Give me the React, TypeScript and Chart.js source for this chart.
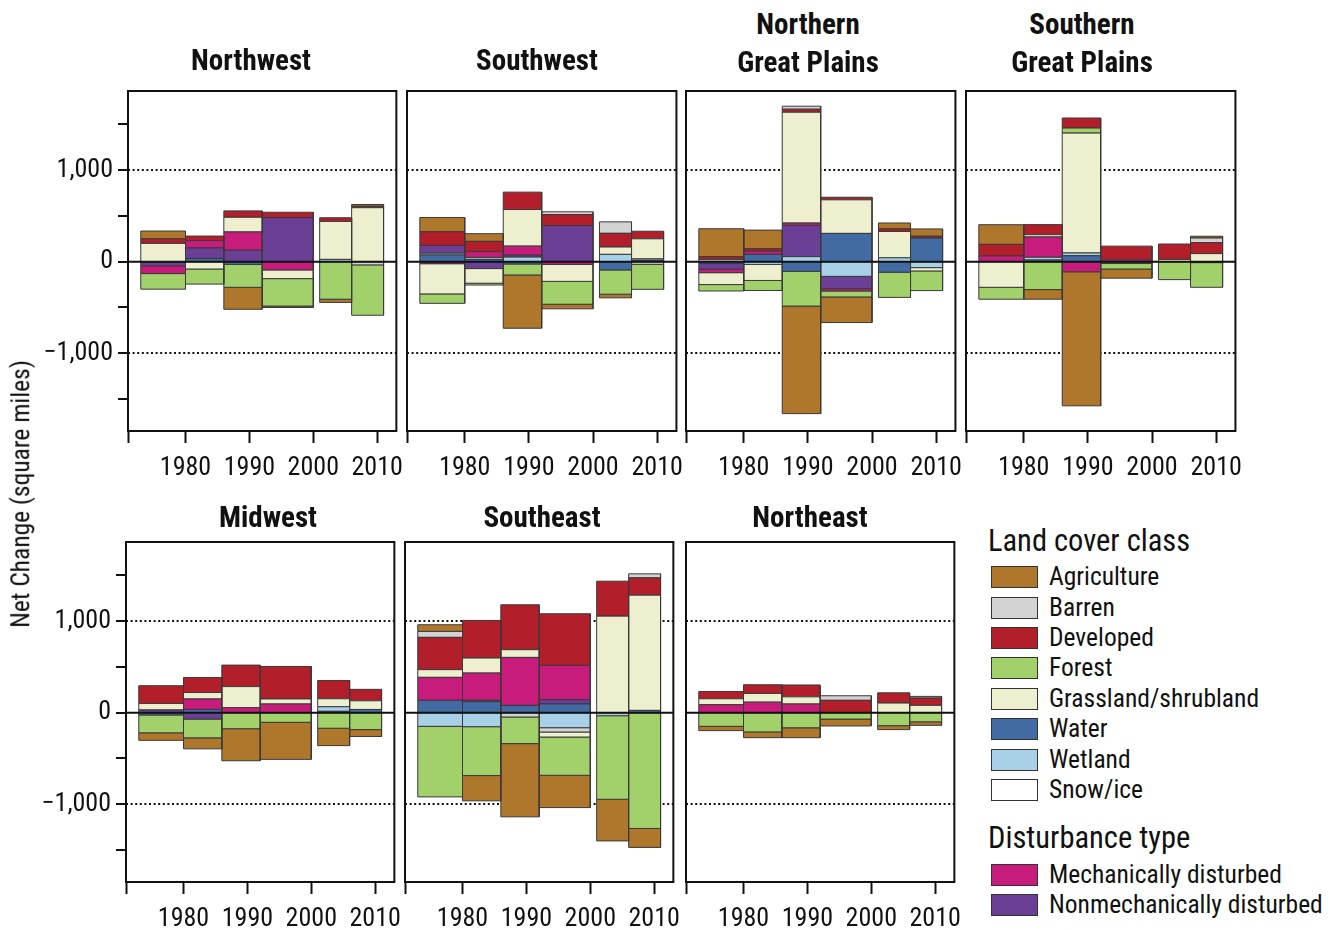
import React, { useEffect, useRef } from "react";
import { Chart, registerables } from "chart.js";

Chart.register(...registerables);

const FONT = '"Roboto Condensed", "Liberation Sans", Arial, sans-serif';

// ---------- data ----------
const periodStarts = [1973, 1980, 1986, 1992, 2001, 2006];
const periodEnds = [1980, 1986, 1992, 2000, 2006, 2011];
const xTickValues = [1971, 1980, 1990, 2000, 2010];
const yTickValues = [-1500, -1000, -500, 0, 500, 1000, 1500];
const yTickText: Record<string, string> = { "1000": "1,000", "0": "0", "-1000": "\u22121,000" };

const landCoverLabels = ["Agriculture", "Barren", "Developed", "Forest", "Grassland/shrubland", "Water", "Wetland", "Snow/ice"];
const landCoverKeys = ["agriculture", "barren", "developed", "forest", "grassland", "water", "wetland", "snow"];
const disturbanceLabels = ["Mechanically disturbed", "Nonmechanically disturbed"];
const disturbanceKeys = ["mechanical", "nonmechanical"];

type Region = Record<string, number[]>;

const northwest: Region = {
  agriculture: [85, 0, -240, -15, -35, 20],
  barren: [0, 0, 0, 0, 0, -35],
  developed: [50, 50, 70, 60, 40, 15],
  forest: [-170, -165, -250, -300, -410, -550],
  grassland: [200, -80, 160, -95, 415, 590],
  water: [0, 35, -30, 0, 0, 0],
  wetland: [0, 0, 0, 0, 25, 0],
  snow: [0, 0, 0, 0, 0, 0],
  mechanical: [-85, 80, 200, -90, 0, 0],
  nonmechanical: [-45, 115, 125, 480, 0, 0],
};

const southwest: Region = {
  agriculture: [156, 84, -582, -50, -40, 0],
  barren: [0, 0, 0, 30, 125, -29],
  developed: [150, 113, 190, 120, 150, 83],
  forest: [-103, -20, -120, -250, -265, -273],
  grassland: [-330, -160, 400, -185, 80, 220],
  water: [73, 25, -25, 0, -90, 15],
  wetland: [20, 22, 50, 0, 80, 15],
  snow: [0, 0, 0, 0, 0, 0],
  mechanical: [-22, 62, 98, -30, 0, 0],
  nonmechanical: [84, -75, 22, 395, 0, 0],
};

const northernGreatPlains: Region = {
  agriculture: [305, 204, -1175, -280, 65, 80],
  barren: [0, 0, 33, 0, 0, 0],
  developed: [30, 25, 33, 28, 28, 20],
  forest: [-70, -110, -380, -65, -275, -215],
  grassland: [-130, -175, 1211, 367, 288, -36],
  water: [-20, 80, -105, 309, -115, 258],
  wetland: [25, -30, 55, -160, 42, -65],
  snow: [0, 0, 0, 0, 0, 0],
  mechanical: [-38, 36, 25, -25, 0, 0],
  nonmechanical: [-62, 0, 342, -135, 0, 0],
};

const southernGreatPlains: Region = {
  agriculture: [215, -105, -1465, -100, 0, 20],
  barren: [0, 0, 0, 0, 0, 50],
  developed: [127, 110, 110, 150, 168, 120],
  forest: [-130, -305, 55, -60, -196, -270],
  grassland: [-280, 25, 1310, 0, 25, 88],
  water: [0, 18, 65, -20, 0, -10],
  wetland: [0, 30, 30, 0, 0, 0],
  snow: [0, 0, 0, 0, 0, 0],
  mechanical: [62, 222, -110, 20, 0, 0],
  nonmechanical: [0, 0, 0, 0, 0, 0],
};

const midwest: Region = {
  agriculture: [-82, -120, -350, -405, -190, -75],
  barren: [0, 0, 0, 0, 0, 0],
  developed: [195, 165, 235, 355, 200, 125],
  forest: [-195, -205, -175, -105, -170, -185],
  grassland: [70, 70, 230, 55, 87, 95],
  water: [-25, 35, 0, 0, 15, 35],
  wetland: [0, 0, 0, 0, 50, 0],
  snow: [0, 0, 0, 0, 0, 0],
  mechanical: [0, 115, 55, 95, 0, 0],
  nonmechanical: [30, -70, 0, 0, 0, 0],
};

const southeast: Region = {
  agriculture: [73, -276, -800, -353, -455, -207],
  barren: [65, 0, -47, -47, 0, 44],
  developed: [353, 411, 491, 564, 382, 189],
  forest: [-771, -534, -291, -418, -913, -1265],
  grassland: [84, 164, 84, -55, 1055, 1259],
  water: [135, 120, 80, 95, 0, 25],
  wetland: [-149, -153, 0, -164, -33, 0],
  snow: [0, 0, 0, 0, 0, 0],
  mechanical: [251, 298, 524, 375, 0, 0],
  nonmechanical: [0, 15, 0, 47, 0, 0],
};

const northeast: Region = {
  agriculture: [-47, -63, -108, -75, -43, -38],
  barren: [0, 0, 0, 50, 0, 18],
  developed: [80, 95, 130, 135, 112, 80],
  forest: [-149, -210, -165, -70, -142, -100],
  grassland: [65, 95, 78, 0, 105, 80],
  water: [0, 0, 0, 0, 0, 0],
  wetland: [0, 0, 0, 0, 0, 0],
  snow: [0, 0, 0, 0, 0, 0],
  mechanical: [87, 115, 95, 0, 0, 0],
  nonmechanical: [0, 0, 0, 0, 0, 0],
};

// ---------- styles ----------
const classColors: Record<string, string> = {
  agriculture: "#AF772C",
  barren: "#D3D3D3",
  developed: "#B21F2B",
  forest: "#A2D16B",
  grassland: "#EEEFCF",
  water: "#426BA3",
  wetland: "#A8D1E7",
  snow: "#FFFFFF",
  mechanical: "#C81C7C",
  nonmechanical: "#6C3F96",
};

const positiveOrder = ["water", "wetland", "snow", "nonmechanical", "mechanical", "grassland", "forest", "developed", "barren", "agriculture"];
const negativeOrder = ["water", "wetland", "barren", "snow", "nonmechanical", "mechanical", "grassland", "forest", "agriculture"];

type PanelCfg = {
  title: string[];
  titleX: number;
  titleY: number[];
  region: Region;
  frame: [number, number, number, number];
  showY: boolean;
};

const panels: PanelCfg[] = [
  { title: ["Northwest"], titleX: 251, titleY: [60], region: northwest, frame: [128, 91, 398, 431], showY: true },
  { title: ["Southwest"], titleX: 537, titleY: [60], region: southwest, frame: [407, 91, 678, 431], showY: false },
  { title: ["Northern", "Great Plains"], titleX: 808, titleY: [24, 62], region: northernGreatPlains, frame: [686, 91, 957, 431], showY: false },
  { title: ["Southern", "Great Plains"], titleX: 1082, titleY: [24, 62], region: southernGreatPlains, frame: [966, 91, 1237, 431], showY: false },
  { title: ["Midwest"], titleX: 268, titleY: [517], region: midwest, frame: [126, 542, 396, 882], showY: true },
  { title: ["Southeast"], titleX: 542, titleY: [517], region: southeast, frame: [405, 542, 675, 882], showY: false },
  { title: ["Northeast"], titleX: 810, titleY: [517], region: northeast, frame: [686, 542, 956, 882], showY: false },
];

const PAD_TOP = 22;
const PAD_RIGHT = 16;
const X_AXIS_H = 60;

function rectDataset(p: number, lo: number, hi: number, key: string) {
  const a = periodStarts[p];
  const b = periodEnds[p];
  return {
    type: "line" as const,
    label: key,
    data: [
      { x: a, y: lo },
      { x: a, y: hi },
      { x: b, y: hi },
      { x: b, y: lo },
      { x: a, y: lo },
    ],
    fill: "shape",
    backgroundColor: classColors[key],
    borderColor: "#3a3a3a",
    borderWidth: 1,
    borderJoinStyle: "miter",
    pointRadius: 0,
    pointHoverRadius: 0,
    tension: 0,
    order: 1,
  };
}

function buildDatasets(region: Region) {
  const out: any[] = [];
  for (let p = 0; p < periodStarts.length; p++) {
    let up = 0;
    for (const k of positiveOrder) {
      const v = region[k] ? region[k][p] : 0;
      if (v > 0) {
        out.push(rectDataset(p, up, up + v, k));
        up += v;
      }
    }
    let down = 0;
    for (const k of negativeOrder) {
      const v = region[k] ? region[k][p] : 0;
      if (v < 0) {
        out.push(rectDataset(p, down + v, down, k));
        down += v;
      }
    }
  }
  out.push({
    type: "line",
    label: "zero",
    data: [
      { x: 1971, y: 0 },
      { x: 2013, y: 0 },
    ],
    borderColor: "#111",
    borderWidth: 2,
    pointRadius: 0,
    fill: false,
    order: -1,
  });
  return out;
}

const framePlugin = {
  id: "frame",
  afterDraw(chart: any) {
    const { ctx, chartArea: a } = chart;
    ctx.save();
    ctx.strokeStyle = "#111";
    ctx.lineWidth = 2;
    ctx.strokeRect(a.left, a.top, a.right - a.left, a.bottom - a.top);
    ctx.restore();
  },
};

function Panel({ cfg }: { cfg: PanelCfg }) {
  const ref = useRef<HTMLCanvasElement>(null);
  const [x0, y0, x1, y1] = cfg.frame;
  const padL = cfg.showY ? 110 : 12;
  const w = x1 - x0 + padL + PAD_RIGHT;
  const h = y1 - y0 + PAD_TOP + X_AXIS_H;

  useEffect(() => {
    if (!ref.current) return;
    const chart = new Chart(ref.current, {
      type: "line",
      data: { datasets: buildDatasets(cfg.region) as any },
      options: {
        animation: false,
        responsive: false,
        events: [],
        layout: { padding: { top: PAD_TOP, right: PAD_RIGHT, left: 0, bottom: 0 } },
        plugins: {
          legend: { display: false },
          tooltip: { enabled: false },
          title: { display: false },
        },
        scales: {
          x: {
            type: "linear",
            min: 1971,
            max: 2013,
            afterBuildTicks: (s: any) => {
              s.ticks = xTickValues.map((v) => ({ value: v }));
            },
            afterFit: (s: any) => {
              s.height = X_AXIS_H;
            },
            ticks: {
              autoSkip: false,
              maxRotation: 0,
              padding: 10,
              color: "#111",
              font: { family: FONT, size: 26 },
              callback: (v: any) => (v === 1971 ? "" : String(v)),
            },
            grid: {
              drawOnChartArea: false,
              drawTicks: true,
              tickLength: 12,
              tickWidth: 2,
              tickColor: "#111",
              color: "#111",
            },
            border: { display: false },
          },
          y: {
            type: "linear",
            min: -1850,
            max: 1865,
            afterBuildTicks: (s: any) => {
              s.ticks = yTickValues.map((v) => ({ value: v }));
            },
            afterFit: (s: any) => {
              s.width = padL;
            },
            ticks: {
              display: cfg.showY,
              autoSkip: false,
              padding: 5,
              color: "#111",
              font: { family: FONT, size: 26 },
              callback: (v: any) => yTickText[String(v)] ?? "",
            },
            grid: {
              color: (c: any) => (c.tick && Math.abs(c.tick.value) === 1000 ? "#111" : "rgba(0,0,0,0)"),
              lineWidth: 2,
              drawTicks: cfg.showY,
              tickLength: 10,
              tickWidth: 2,
              tickColor: "#111",
            },
            border: { display: false, dash: [2, 2.6] },
          },
        },
      } as any,
      plugins: [framePlugin],
    });
    return () => chart.destroy();
  }, []);

  return (
    <canvas
      ref={ref}
      width={w}
      height={h}
      style={{ position: "absolute", left: x0 - padL, top: y0 - PAD_TOP, width: w, height: h }}
    />
  );
}

const textBase: React.CSSProperties = {
  position: "absolute",
  whiteSpace: "nowrap",
  fontFamily: FONT,
  color: "#111",
  lineHeight: 1,
  transform: "translate(-50%, -50%)",
};

function LegendRow({ label, color, y }: { label: string; color: string; y: number }) {
  return (
    <>
      <div
        style={{
          position: "absolute",
          left: 991,
          top: y - 11,
          width: 45,
          height: 20,
          background: color,
          border: "1.5px solid #333",
        }}
      />
      <div
        style={{
          position: "absolute",
          left: 1049,
          top: y,
          transform: "translateY(-50%)",
          fontFamily: FONT,
          fontSize: 25.5,
          lineHeight: 1,
          color: "#111",
          whiteSpace: "nowrap",
        }}
      >
        {label}
      </div>
    </>
  );
}

export default function App() {
  const landRowsY = [577, 608, 638, 668, 699, 729, 760, 790];
  const distRowsY = [875, 905];
  return (
    <div style={{ position: "absolute", left: 0, top: 0, width: 1333, height: 930, background: "#fff", overflow: "hidden" }}>
      {panels.map((p, i) => (
        <Panel key={i} cfg={p} />
      ))}
      {panels.map((p, i) =>
        p.title.map((t, j) => (
          <div
            key={`t${i}-${j}`}
            style={{ ...textBase, left: p.titleX, top: p.titleY[j], fontSize: 29, fontWeight: "bold" }}
          >
            {t}
          </div>
        ))
      )}
      <div
        style={{
          ...textBase,
          left: 21,
          top: 494,
          fontSize: 25.5,
          transform: "translate(-50%, -50%) rotate(-90deg)",
        }}
      >
        Net Change (square miles)
      </div>
      <div style={{ position: "absolute", left: 988, top: 541, transform: "translateY(-50%)", fontFamily: FONT, fontSize: 30.5, lineHeight: 1, color: "#111", whiteSpace: "nowrap" }}>
        Land cover class
      </div>
      {landCoverLabels.map((l, i) => (
        <LegendRow key={l} label={l} color={classColors[landCoverKeys[i]]} y={landRowsY[i]} />
      ))}
      <div style={{ position: "absolute", left: 988, top: 838, transform: "translateY(-50%)", fontFamily: FONT, fontSize: 30.5, lineHeight: 1, color: "#111", whiteSpace: "nowrap" }}>
        Disturbance type
      </div>
      {disturbanceLabels.map((l, i) => (
        <LegendRow key={l} label={l} color={classColors[disturbanceKeys[i]]} y={distRowsY[i]} />
      ))}
    </div>
  );
}
